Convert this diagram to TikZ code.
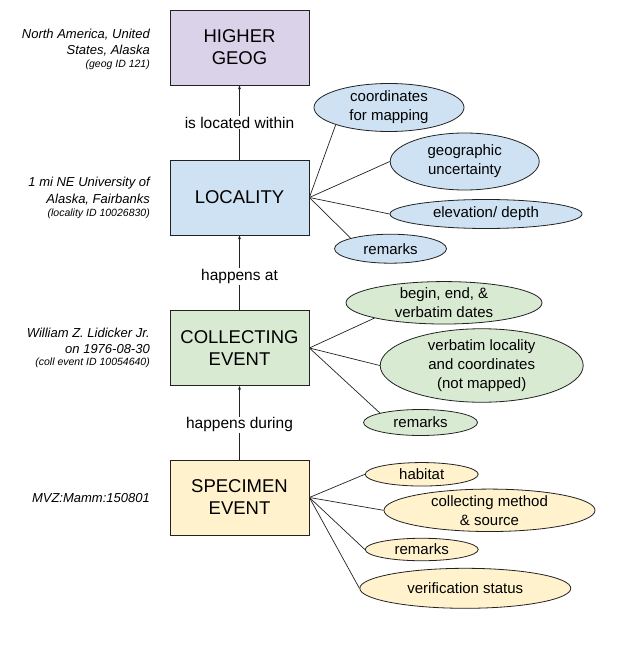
\documentclass[tikz,border=0pt]{standalone}
\usepackage{fontspec}
\setmainfont{Liberation Sans}
\usetikzlibrary{shapes.geometric,arrows.meta}
\definecolor{cgeog}{HTML}{D9D2E9}
\definecolor{cloc}{HTML}{CFE2F3}
\definecolor{ccoll}{HTML}{D9EAD3}
\definecolor{cspec}{HTML}{FFF2CC}
\definecolor{cline}{HTML}{222222}
\tikzset{
  entbox/.style={draw=cline, line width=0.8pt, minimum width=139pt, minimum height=75pt, inner sep=0pt, align=center, font=\fontsize{18.5}{22}\selectfont},
  attr/.style={ellipse, draw=cline, line width=0.8pt, inner sep=0pt, align=center, font=\fontsize{15}{19}\selectfont},
  rel/.style={fill=white, inner sep=1pt, font=\fontsize{15.5}{19}\selectfont},
  side/.style={anchor=east, inner sep=0pt, font=\fontsize{13}{16}\itshape\selectfont},
  sidesmall/.style={anchor=east, inner sep=0pt, font=\fontsize{10.5}{13}\itshape\selectfont},
  conn/.style={draw=cline, line width=0.7pt},
  arr/.style={draw=cline, line width=0.7pt, -{Stealth[length=4pt,width=3pt]}}
}
\begin{document}
\begin{tikzpicture}[x=1pt,y=-1pt]
\useasboundingbox (0,0) rectangle (641,652);
% entity boxes
\node[entbox, fill=cgeog] (geog) at (239.5,47.5) {HIGHER\\GEOG};
\node[entbox, fill=cloc] (loc) at (239.5,197.5) {LOCALITY};
\node[entbox, fill=ccoll] (coll) at (239.5,348) {COLLECTING\\EVENT};
\node[entbox, fill=cspec] (spec) at (239.5,497.5) {SPECIMEN\\EVENT};
% relations
\draw[arr] (loc.north) -- (geog.south) node[rel, midway] (r1) {is located within};
\draw[arr] (coll.north) -- (loc.south) node[rel, pos=0.45] (r2) {happens at};
\draw[arr] (spec.north) -- (coll.south) node[rel, pos=0.47] (r3) {happens during};
% side texts
\node[side] (g1) at (150,34.5) {North America, United};
\node[side] (g2) at (150,50.5) {States, Alaska};
\node[sidesmall] (g3) at (150,65) {(geog ID 121)};
\node[side] (l1) at (150,183) {1 mi NE University of};
\node[side] (l2) at (150,199.5) {Alaska, Fairbanks};
\node[sidesmall] (l3) at (150,213.5) {(locality ID 10026830)};
\node[side] (c1t) at (150,332.5) {William Z. Lidicker Jr.};
\node[side] (c2t) at (150,349) {on 1976-08-30};
\node[sidesmall] (c3t) at (150,363) {(coll event ID 10054640)};
\node[side] (s1t) at (150,498) {MVZ:Mamm:150801};
% locality attributes
\node[attr, fill=cloc, minimum width=150pt, minimum height=48pt] (la) at (389,107.5) {coordinates\\for mapping};
\node[attr, fill=cloc, minimum width=149pt, minimum height=57pt] (lb) at (464.7,161.5) {geographic\\uncertainty};
\node[attr, fill=cloc, minimum width=192pt, minimum height=29pt] (lc) at (486,214) {elevation/ depth};
\node[attr, fill=cloc, minimum width=112pt, minimum height=29pt] (ld) at (390.5,248.7) {remarks};
\draw[conn] (loc.east) -- (la.south west);
\draw[conn] (loc.east) -- (lb.west);
\draw[conn] (loc.east) -- (lc.west);
\draw[conn] (loc.east) -- (ld.north west);
% collecting attributes
\node[attr, fill=ccoll, minimum width=196pt, minimum height=38pt] (ca) at (444,302.8) {begin, end, \&\\verbatim dates};
\node[attr, fill=ccoll, minimum width=203pt, minimum height=66pt] (cb) at (481.7,365.5) {verbatim locality\\and coordinates\\(not mapped)};
\node[attr, fill=ccoll, minimum width=114pt, minimum height=26pt] (cc) at (420.5,422.5) {remarks};
\draw[conn] (coll.east) -- (ca.south west);
\draw[conn] (coll.east) -- (cb.west);
\draw[conn] (coll.east) -- (cc.north west);
% specimen attributes
\node[attr, fill=cspec, minimum width=113pt, minimum height=23.5pt] (sa) at (421.7,474.3) {habitat};
\node[attr, fill=cspec, minimum width=211pt, minimum height=40.5pt] (sb) at (489.5,510.3) {collecting method\\\& source};
\node[attr, fill=cspec, minimum width=113pt, minimum height=22.5pt] (sc) at (421.7,549.5) {remarks};
\node[attr, fill=cspec, minimum width=211pt, minimum height=40pt] (sd) at (465.3,588.3) {verification status};
\draw[conn] (spec.east) -- (sa.west);
\draw[conn] (spec.east) -- (sb.west);
\draw[conn] (spec.east) -- (sc.west);
\draw[conn] (spec.east) -- (sd.west);
\end{tikzpicture}
\end{document}
